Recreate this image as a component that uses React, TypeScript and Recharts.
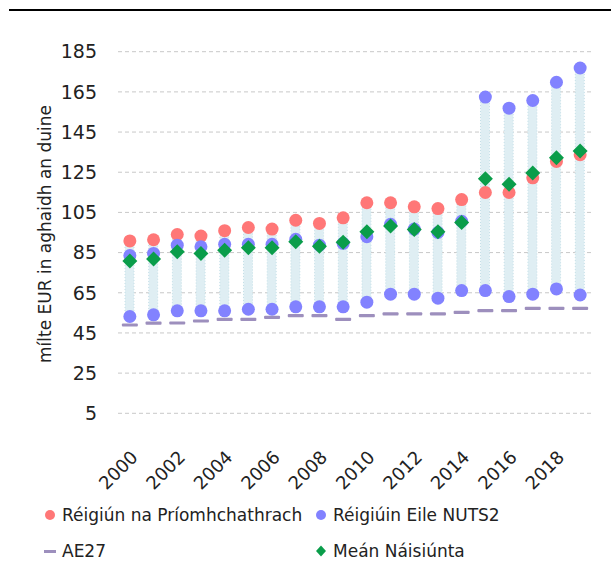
import React from 'react';
import { ComposedChart, Bar, Line, XAxis, YAxis, CartesianGrid, Label } from 'recharts';

const years = ['2000','2001','2002','2003','2004','2005','2006','2007','2008','2009','2010','2011','2012','2013','2014','2015','2016','2017','2018','2019'];
const capitalRegion = [90.8, 91.4, 94.0, 93.2, 95.9, 97.5, 96.7, 101.1, 99.5, 102.3, 109.8, 109.8, 107.8, 106.9, 111.4, 114.9, 114.9, 122.2, 130.4, 133.7];
const otherHigh = [83.5, 84.6, 88.7, 87.9, 89.1, 89.1, 89.1, 91.6, 88.7, 89.6, 92.9, 99.1, 96.7, 95.0, 100.6, 162.4, 156.9, 160.7, 169.8, 176.9];
const otherLow = [53.2, 54.0, 56.0, 56.0, 56.0, 56.8, 56.8, 58.0, 58.0, 58.0, 60.3, 64.3, 64.3, 62.3, 66.1, 66.1, 63.1, 64.3, 66.9, 63.9];
const nationalAvg = [80.8, 81.8, 85.4, 84.6, 86.2, 87.4, 87.4, 90.4, 88.2, 90.1, 95.4, 98.2, 96.5, 95.4, 100.0, 121.8, 119.0, 124.6, 132.2, 135.6];
const eu27 = [49.0, 49.9, 50.0, 51.0, 51.8, 51.8, 52.8, 53.7, 53.7, 51.8, 53.7, 54.5, 54.5, 54.5, 55.3, 56.2, 56.2, 57.3, 57.3, 57.3];
const yTicks = [5, 25, 45, 65, 85, 105, 125, 145, 165, 185];

const legendLabels = ['Réigiún na Príomhchathrach', 'Réigiúin Eile NUTS2', 'AE27', 'Meán Náisiúnta'];
const yTitle = 'mílte EUR in aghaidh an duine';

const RED = '#ff7777';
const BLUE = '#8282ff';
const GREEN = '#0a9d4a';
const PURPLE = '#9d8fbd';
const FONT = '"DejaVu Sans", Verdana, sans-serif';

const data = years.map((y, i) => ({
  year: y,
  capital: capitalRegion[i],
  high: otherHigh[i],
  low: otherLow[i],
  national: nationalAvg[i],
  eu: eu27[i],
  range: [Math.min(otherLow[i], capitalRegion[i]), Math.max(otherHigh[i], capitalRegion[i], nationalAvg[i])],
}));

const circleDot = (color: string, r: number) => (props: any) => {
  const { cx, cy, index } = props;
  if (cx == null || cy == null) return <g key={`e${index}`} />;
  return <circle key={`c${color}${index}`} cx={cx} cy={cy} r={r} fill={color} />;
};

const diamondDot = (props: any) => {
  const { cx, cy, index } = props;
  if (cx == null || cy == null) return <g key={`d${index}`} />;
  const s = 7.5;
  return <polygon key={`d${index}`} points={`${cx},${cy - s} ${cx + s},${cy} ${cx},${cy + s} ${cx - s},${cy}`} fill={GREEN} />;
};

const dashDot = (props: any) => {
  const { cx, cy, index } = props;
  if (cx == null || cy == null) return <g key={`a${index}`} />;
  return <rect key={`a${index}`} x={cx - 8} y={cy - 1.5} width={16} height={3.2} rx={1} fill={PURPLE} />;
};

const XTick = (props: any) => {
  const { x, y, payload } = props;
  const ax = x + 9;
  const ay = y + 45;
  return (
    <text x={ax} y={ay} textAnchor="end" transform={`rotate(-45 ${ax} ${ay})`} fontSize={18} fill="#222" fontFamily={FONT}>
      {payload.value}
    </text>
  );
};

const legendText: React.CSSProperties = { position: 'absolute', fontFamily: FONT, fontSize: 17, color: '#222', lineHeight: '20px', whiteSpace: 'nowrap' };

export default function App() {
  return (
    <div style={{ position: 'absolute', left: 0, top: 0, width: 611, height: 563, background: '#fff' }}>
      <div style={{ position: 'absolute', left: 9, top: 9, width: 602, height: 2, background: '#000' }} />
      <ComposedChart width={611} height={500} data={data} margin={{ top: 51.7, right: 19, bottom: 26.7, left: 0 }}>
        <CartesianGrid vertical={false} stroke="#c8c8c8" strokeDasharray="4 3" />
        <XAxis dataKey="year" interval={1} tickLine={false} axisLine={false} tickSize={0} tickMargin={0} height={60} tick={<XTick />} />
        <YAxis domain={[5, 185]} ticks={yTicks} tickLine={false} axisLine={false} tickSize={0} tickMargin={21} width={118}
          tick={{ fontSize: 19, fill: '#222', fontFamily: FONT }}>
          <Label content={() => (
            <text x={51} y={234} textAnchor="middle" transform="rotate(-90 51 234)" fontSize={17} fill="#222" fontFamily={FONT}>{yTitle}</text>
          )} />
        </YAxis>
        <Bar dataKey="range" barSize={9} fill="#dfeef3" stroke="#c4dfe7" strokeDasharray="1 2" isAnimationActive={false} />
        <Line dataKey="capital" stroke="none" dot={circleDot(RED, 6.5)} activeDot={false} isAnimationActive={false} />
        <Line dataKey="high" stroke="none" dot={circleDot(BLUE, 6.5)} activeDot={false} isAnimationActive={false} />
        <Line dataKey="low" stroke="none" dot={circleDot(BLUE, 6.5)} activeDot={false} isAnimationActive={false} />
        <Line dataKey="national" stroke="none" dot={diamondDot} activeDot={false} isAnimationActive={false} />
        <Line dataKey="eu" stroke="none" dot={dashDot} activeDot={false} isAnimationActive={false} />
      </ComposedChart>
      <svg style={{ position: 'absolute', left: 0, top: 0 }} width={611} height={563} pointerEvents="none">
        <circle cx={50} cy={515} r={5} fill={RED} />
        <circle cx={321} cy={515} r={5} fill={BLUE} />
        <rect x={44} y={550} width={12} height={3} fill={PURPLE} />
        <polygon points="321,545.5 326,551 321,556.5 316,551" fill={GREEN} />
      </svg>
      <div style={{ ...legendText, left: 62, top: 505 }}>{legendLabels[0]}</div>
      <div style={{ ...legendText, left: 333, top: 505 }}>{legendLabels[1]}</div>
      <div style={{ ...legendText, left: 62, top: 541 }}>{legendLabels[2]}</div>
      <div style={{ ...legendText, left: 333, top: 541 }}>{legendLabels[3]}</div>
    </div>
  );
}
